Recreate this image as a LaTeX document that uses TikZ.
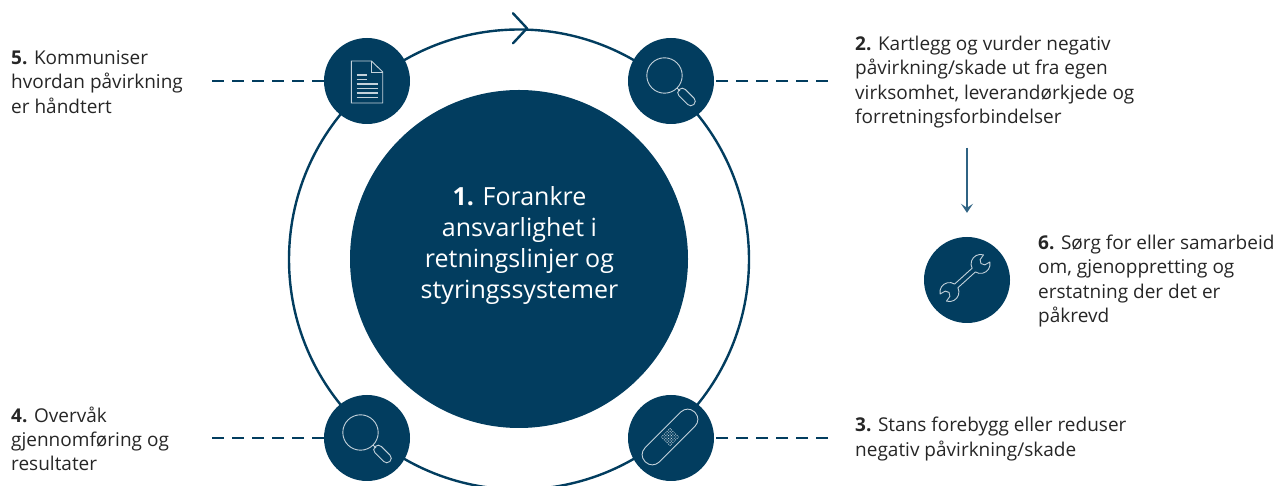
\documentclass[tikz,border=0pt]{standalone}
\usepackage{fontspec}
\setmainfont{Open Sans}
\usepackage{tikz}
\usetikzlibrary{arrows.meta,calc,positioning}
\definecolor{navy}{HTML}{023D5F}
\definecolor{iconline}{HTML}{C4D2DB}
\definecolor{arrowblue}{HTML}{2F6383}

\tikzset{
  docicon/.pic={
    \draw[iconstroke] (-15.7,20) -- (4.5,20) -- (15.7,9) -- (15.7,-22) -- (-15.7,-22) -- cycle;
    \draw[iconstroke] (4.5,20) -- (4.5,9) -- (15.7,9);
    \foreach \y/\x in {6/0,1.5/0,-3/11,-7.5/11,-12/11,-16.5/11}
      \draw[iconstroke,line width=1.1pt] (-10.5,\y) -- (\x,\y);
  },
  lensicon/.pic={
    \draw[iconstroke] (-6.5,5.5) circle (17.7);
    \draw[iconstroke] (6,-7) -- (9,-10);
    \draw[iconstroke,rounded corners=4.4pt,rotate around={-45:(15.5,-16)}]
      (5,-20.5) rectangle (26,-11.5);
  },
  bandicon/.pic={
    \draw[iconstroke,rounded corners=9.5pt,shift={(-1,1)},rotate=45] (-35,-10) rectangle (35,10);
    \foreach \i in {-3,...,3}
      \foreach \j in {-3,...,3}
        \fill[iconline,shift={(-1,1)},rotate=45] (\i*2,\j*2) circle (0.7);
  },
  wrenchicon/.pic={
    \draw[iconstroke,line join=round,shift={(-2,2)},rotate=42]
      (11.8,2.5) arc[start angle=165,end angle=30,radius=9.5]
      -- (23.5,3.5) -- (21.5,0) -- (23.5,-3.5) -- (29.2,-4.75)
      arc[start angle=-30,end angle=-165,radius=9.5]
      -- (-11.8,-2.5) arc[start angle=-15,end angle=-150,radius=9.5]
      -- (-23.5,-3.5) -- (-21.5,0) -- (-23.5,3.5) -- (-29.2,4.75)
      arc[start angle=150,end angle=15,radius=9.5] -- cycle;
  },
}

\begin{document}
\begin{tikzpicture}[
    x=1pt,y=1pt,
    every node/.style={align=left,text=black!85,inner sep=0pt},
    disc/.style={circle,fill=navy,minimum size=86pt},
    hub/.style={circle,fill=navy,minimum size=338pt},
    ring/.style={circle,draw=navy,line width=2.4pt,minimum size=460pt},
    iconstroke/.style={draw=iconline,line width=0.9pt},
    note/.style={anchor=west,font=\fontsize{19}{24.2}\selectfont},
    leader/.style={draw=navy,line width=1.5pt,dash pattern=on 12pt off 8pt},
    chevron/.style={draw=navy,line width=2.4pt,line cap=round,line join=round},
    down/.style={-{Stealth[length=9pt,width=12pt,inset=4pt]},draw=arrowblue,fill=arrowblue,line width=1.8pt}]

  \useasboundingbox (0,0) rectangle (1274,486);
  \clip (0,0) rectangle (1274,486);

  % ring and centre
  \node[ring] (ring) at (519,226.5) {};
  \node[hub] (hub) at (519,227) {};
  \node[align=center,text=white,font=\fontsize{25}{30.7}\selectfont] (anchoring) at (519.5,240.5)
    {\textbf{1.} Forankre\\ansvarlighet i\\retningslinjer og\\styringssystemer};
  \draw[chevron] ($(ring.north)+(-6,15)$) -- ($(ring.north)+(8,0)$) -- ($(ring.north)+(-6,-15)$);

  % icon discs
  \node[disc] (communicate) at (367,405) {};
  \node[disc] (assess) at (671,405) {};
  \node[disc] (monitor) at (367,48) {};
  \node[disc] (stop) at (671,48) {};
  \node[disc] (repair) at (967,206) {};
  \pic at (communicate) {docicon};
  \pic at (assess) {lensicon};
  \pic at (monitor) {lensicon};
  \pic at (stop) {bandicon};
  \pic at (repair) {wrenchicon};

  % texts
  \node[note] (t5) at (11,404) {\textbf{5.} Kommuniser\\hvordan påvirkning\\er håndtert};
  \node[note] (t2) at (855,404) {\textbf{2.} Kartlegg og vurder negativ\\påvirkning/skade ut fra egen\\virksomhet, leverandørkjede og\\forretningsforbindelser};
  \node[note] (t6) at (1038,205) {\textbf{6.} Sørg for eller samarbeid\\om, gjenoppretting og\\erstatning der det er\\påkrevd};
  \node[note] (t4) at (11,47) {\textbf{4.} Overvåk\\gjennomføring og\\resultater};
  \node[note] (t3) at (855,47) {\textbf{3.} Stans forebygg eller reduser\\negativ påvirkning/skade};

  % connectors
  \coordinate (l5) at (212,405);
  \coordinate (l2) at (828,405);
  \coordinate (l4) at (212,48);
  \coordinate (l3) at (828,48);
  \coordinate (downstart) at (967,338);
  \draw[leader] (l5) -- (communicate);
  \draw[leader] (l2) -- (assess);
  \draw[leader] (l4) -- (monitor);
  \draw[leader] (l3) -- (stop);
  \draw[down,shorten >=24pt] (downstart) -- (repair);
\end{tikzpicture}
\end{document}
